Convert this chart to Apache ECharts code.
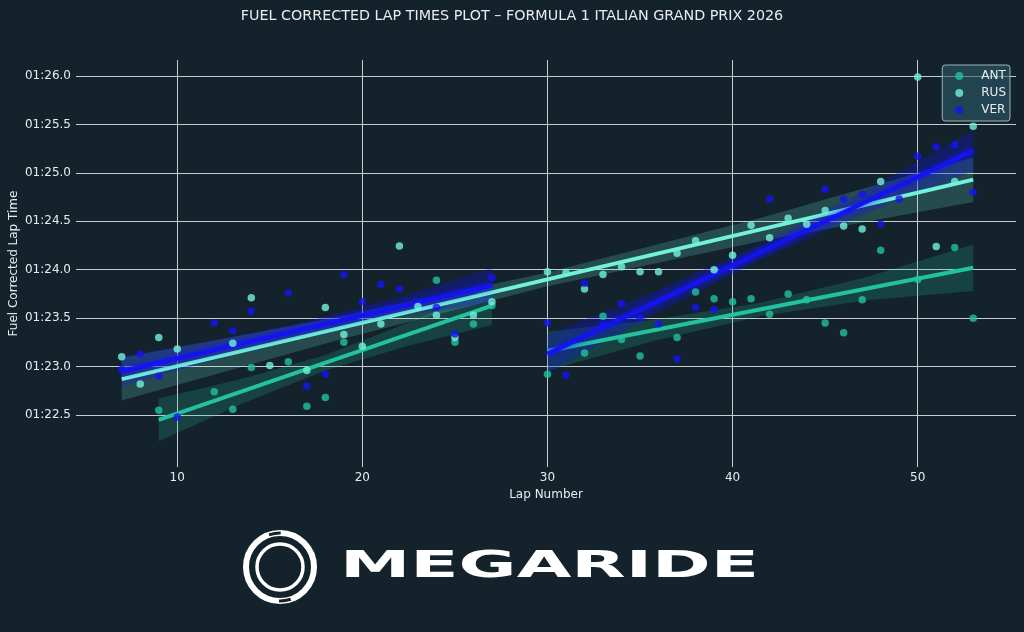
<!DOCTYPE html>
<html><head><meta charset="utf-8">
<script src="https://cdn.jsdelivr.net/npm/echarts@6/dist/echarts.min.js"></script>
<style>html,body{margin:0;padding:0;background:#13222b;}#c{width:1024px;height:632px;}</style>
</head><body><div id="c"></div>
<script>
const title = 'FUEL CORRECTED LAP TIMES PLOT – FORMULA 1 ITALIAN GRAND PRIX 2026';
const drivers = ['ANT', 'RUS', 'VER'];
const xTicks = [10, 20, 30, 40, 50];
const yTicks = [82.5, 83.0, 83.5, 84.0, 84.5, 85.0, 85.5, 86.0];

const antLaps = [9,12,13,14,16,17,18,19,24,25,26,27,30,32,33,34,35,37,38,39,40,41,42,43,44,45,46,47,48,50,52,53];
const antTimes = [82.55,82.74,82.56,82.99,83.05,82.59,82.68,83.25,83.89,83.25,83.44,83.63,82.92,83.14,83.52,83.28,83.11,83.30,83.77,83.70,83.67,83.70,83.54,83.75,83.69,83.45,83.35,83.69,84.20,83.90,84.23,83.50];
const rusLaps = [7,8,9,10,13,14,15,17,18,19,20,21,22,23,24,25,26,27,30,31,32,33,34,35,36,37,38,39,40,41,42,43,44,45,46,47,48,50,51,52,53];
const rusTimes = [83.10,82.82,83.30,83.18,83.24,83.71,83.01,82.96,83.61,83.33,83.21,83.44,84.245,83.62,83.53,83.30,83.53,83.67,83.98,83.97,83.80,83.95,84.03,83.98,83.98,84.17,84.30,84.00,84.15,84.46,84.33,84.53,84.47,84.61,84.45,84.42,84.91,85.99,84.24,84.91,85.48];
const verLaps = [7,8,9,10,12,13,14,16,17,18,19,20,21,22,24,25,27,30,31,32,33,34,35,36,37,38,39,42,45,46,47,48,49,50,51,52,53];
const verTimes = [82.97,83.13,82.90,82.48,83.45,83.37,83.57,83.76,82.80,82.92,83.95,83.67,83.85,83.80,83.61,83.34,83.92,83.45,82.91,83.86,83.44,83.65,83.50,83.44,83.08,83.61,83.59,84.73,84.83,84.73,84.78,84.47,84.73,85.17,85.27,85.29,84.80];

// trend lines: [lap, value]
const antFit1 = [[9, 82.45], [27, 83.63]];
const antFit2 = [[30, 83.16], [53, 84.02]];
const rusFit = [[7, 82.87], [53, 84.93]];
const verFit1 = [[7, 82.95], [27, 83.84]];
const verFit2 = [[30, 83.13], [53, 85.23]];

// confidence bands
const antBand1Laps = [9, 13.5, 18, 22.5, 27];
const antBand1Hi = [82.67, 82.875, 83.12, 83.455, 83.83];
const antBand1Lo = [82.23, 82.615, 82.96, 83.215, 83.43];
const antBand2Laps = [30, 35.75, 41.5, 47.25, 53];
const antBand2Hi = [83.36, 83.485, 83.66, 83.925, 84.26];
const antBand2Lo = [82.96, 83.265, 83.52, 83.685, 83.78];
const rusBandLaps = [7, 18.5, 30, 41.5, 53];
const rusBandHi = [83.09, 83.505, 83.97, 84.535, 85.16];
const rusBandLo = [82.65, 83.265, 83.83, 84.295, 84.70];
const verBand1Laps = [7, 12, 17, 22, 27];
const verBand1Hi = [83.11, 83.27, 83.465, 83.72, 84.02];
const verBand1Lo = [82.79, 83.07, 83.325, 83.52, 83.66];
const verBand2Laps = [30, 35.75, 41.5, 47.25, 53];
const verBand2Hi = [83.33, 83.775, 84.26, 84.825, 85.44];
const verBand2Lo = [82.93, 83.535, 84.10, 84.585, 85.02];

const colors = {ANT: '#22c2a0', RUS: '#72f2da', VER: '#1414f2'};
const bandColors = {ANT: 'rgba(34,194,160,0.2)', RUS: 'rgba(114,242,218,0.2)', VER: 'rgba(20,20,242,0.28)'};

function fmt(v) {
  const m = Math.floor(v / 60);
  const s = v - m * 60;
  return String(m).padStart(2, '0') + ':' + s.toFixed(1).padStart(4, '0');
}
function zip(a, b) { return a.map((x, i) => [x, b[i]]); }

function scatter(name, laps, times) {
  return {name, type: 'scatter', data: zip(laps, times), symbolSize: 7.5,
    itemStyle: {color: colors[name], opacity: 0.8}, z: 2};
}
function fitLine(name, pts) {
  const glow = name === 'VER';
  return {name, type: 'line', data: pts, showSymbol: false, symbol: 'none',
    lineStyle: {color: colors[name], width: glow ? 4.5 : 4, shadowBlur: glow ? 6 : 0, shadowColor: colors[name]},
    itemStyle: {color: colors[name]}, z: 2, silent: true};
}
function band(name, laps, hi, lo) {
  return {name, type: 'custom', data: [[laps[0], hi[0]]], z: 2, silent: true,
    renderItem: function (params, api) {
      const pts = [];
      for (let i = 0; i < laps.length; i++) pts.push(api.coord([laps[i], hi[i]]));
      for (let i = laps.length - 1; i >= 0; i--) pts.push(api.coord([laps[i], lo[i]]));
      return {type: 'polygon', shape: {points: pts}, style: {fill: bandColors[name]}};
    }};
}

const series = [
  scatter('ANT', antLaps, antTimes),
  fitLine('ANT', antFit1), band('ANT', antBand1Laps, antBand1Hi, antBand1Lo),
  fitLine('ANT', antFit2), band('ANT', antBand2Laps, antBand2Hi, antBand2Lo),
  scatter('RUS', rusLaps, rusTimes),
  fitLine('RUS', rusFit), band('RUS', rusBandLaps, rusBandHi, rusBandLo),
  scatter('VER', verLaps, verTimes),
  fitLine('VER', verFit1), band('VER', verBand1Laps, verBand1Hi, verBand1Lo),
  fitLine('VER', verFit2), band('VER', verBand2Laps, verBand2Hi, verBand2Lo)
];

const txt = '#e8ecee';
const grid = '#c6ccd0';
const bg = '#13222b';
const chart = echarts.init(document.getElementById('c'), null, {renderer: 'canvas'});
chart.setOption({
  backgroundColor: bg,
  animation: false,
  textStyle: {fontFamily: 'DejaVu Sans'},
  title: {text: title, left: 'center', top: 4,
    textStyle: {color: txt, fontSize: 14.3, fontWeight: 'normal', fontFamily: 'DejaVu Sans'}},
  legend: {data: drivers, orient: 'vertical', right: 14, top: 65, icon: 'circle',
    itemWidth: 34, itemHeight: 8, itemGap: 5, padding: [5, 4, 5, 13],
    backgroundColor: 'rgba(45,92,106,0.6)', borderColor: '#9fb2b8', borderWidth: 1, borderRadius: 3,
    textStyle: {color: txt, fontSize: 12, fontFamily: 'DejaVu Sans'}},
  grid: {left: 76, right: 8, top: 60, bottom: 165, containLabel: false, outerBoundsMode: 'none'},
  xAxis: {type: 'value', min: 4.53, max: 55.31,
    name: 'Lap Number', nameLocation: 'middle', nameGap: 22, nameMoveOverlap: false,
    nameTextStyle: {color: txt, fontSize: 12, fontFamily: 'DejaVu Sans'},
    axisLine: {show: false}, axisTick: {show: false, customValues: xTicks},
    axisLabel: {customValues: xTicks, color: txt, fontSize: 12, margin: 5, fontFamily: 'DejaVu Sans'},
    splitLine: {show: true, lineStyle: {color: grid, width: 1}}},
  yAxis: {type: 'value', min: 81.963, max: 86.165,
    name: 'Fuel Corrected Lap Time', nameLocation: 'middle', nameGap: 56, nameRotate: 90, nameMoveOverlap: false,
    nameTextStyle: {color: txt, fontSize: 12, fontFamily: 'DejaVu Sans'},
    axisLine: {show: false}, axisTick: {show: false, customValues: yTicks},
    axisLabel: {customValues: yTicks, color: txt, fontSize: 12, margin: 5, formatter: fmt, fontFamily: 'DejaVu Sans'},
    splitLine: {show: true, lineStyle: {color: grid, width: 1}}},
  series: series,
  graphic: [
    {type: 'circle', shape: {cx: 280, cy: 567, r: 34}, style: {fill: 'none', stroke: '#ffffff', lineWidth: 6}},
    {type: 'circle', shape: {cx: 280, cy: 567, r: 23}, style: {fill: 'none', stroke: '#ffffff', lineWidth: 3.5}},
    {type: 'arc', shape: {cx: 280, cy: 567, r: 34, startAngle: -1.9, endAngle: -1.55}, style: {fill: 'none', stroke: bg, lineWidth: 3}},
    {type: 'arc', shape: {cx: 280, cy: 567, r: 34, startAngle: 1.25, endAngle: 1.6}, style: {fill: 'none', stroke: bg, lineWidth: 3}},
    {type: 'text', x: 340, y: 567, scaleX: 1.86, scaleY: 1,
      style: {text: 'MEGARIDE', fill: '#ffffff', font: 'bold 38px "DejaVu Sans"', verticalAlign: 'middle', align: 'left'}}
  ]
});
</script></body></html>
